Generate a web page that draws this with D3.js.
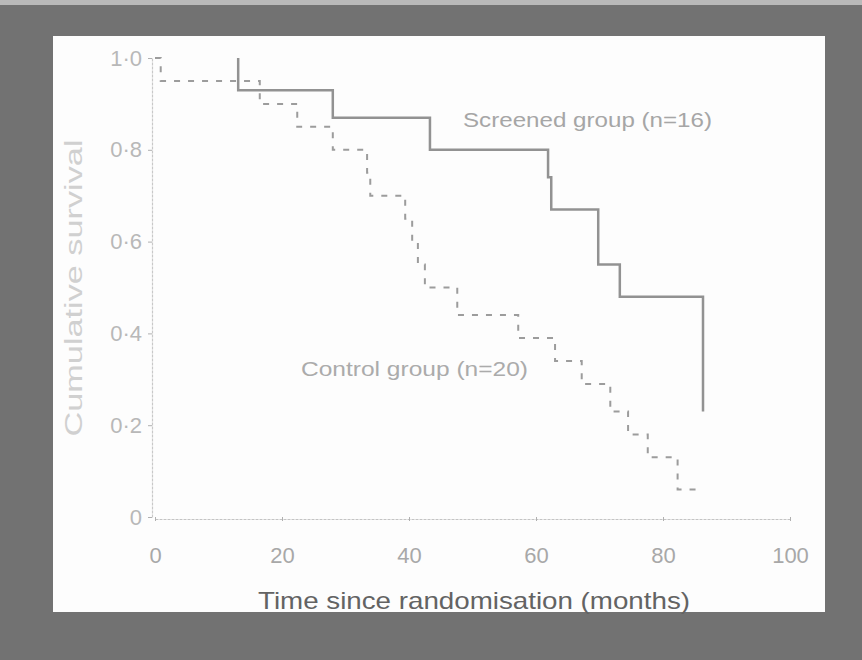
<!DOCTYPE html>
<html>
<head>
<meta charset="utf-8">
<script src="https://cdn.jsdelivr.net/npm/d3@7"></script>
<style>
	body { margin: 0; background: #717171; }
	svg { display: block; }
</style>
</head>
<body>
<div id="chart"></div>
<script>
// screened group (n=16), solid step line
var screened_time = [13.1, 13.1, 28.0, 43.3, 61.9, 62.4, 69.8, 73.2, 86.3];
var screened_surv = [1.0, 0.93, 0.87, 0.80, 0.74, 0.67, 0.55, 0.48, 0.23];

// control group (n=20), dashed step line
var control_time = [0, 0.9, 16.5, 22.4, 28.0, 33.4, 33.9, 39.4, 40.5, 41.4, 42.5, 47.6, 57.2, 63.0, 67.2, 71.7, 74.5, 77.6, 82.3, 85.8];
var control_surv = [1.0, 0.95, 0.90, 0.85, 0.80, 0.75, 0.70, 0.65, 0.60, 0.55, 0.50, 0.44, 0.39, 0.34, 0.29, 0.23, 0.18, 0.13, 0.06, 0.06];

var x_ticks = [0, 20, 40, 60, 80, 100];
var y_ticks = [0, 0.2, 0.4, 0.6, 0.8, 1.0];
var y_tick_labels = ['0', '0·2', '0·4', '0·6', '0·8', '1·0'];

var width = 862;
var height = 660;

var svg = d3.select('#chart')
	.append('svg')
	.attr('width', width)
	.attr('height', height);

// scanned page background
svg.append('rect')
	.attr('width', width)
	.attr('height', height)
	.style('fill', '#727272');
svg.append('rect')
	.attr('width', width)
	.attr('height', 5)
	.style('fill', '#b9b9b9');

// white panel
svg.append('rect')
	.attr('x', 53)
	.attr('y', 36)
	.attr('width', 772)
	.attr('height', 576)
	.style('fill', '#fdfdfd');

var x = d3.scaleLinear()
	.domain([0, 100])
	.range([155, 790]);

var y = d3.scaleLinear()
	.domain([0, 1])
	.range([517, 58]);

var font = '"Liberation Sans", Arial, sans-serif';

// x axis
var x_axis = svg.append('g')
	.attr('transform', 'translate(0,519)')
	.call(d3.axisBottom(x).tickValues(x_ticks).tickSize(4).tickSizeOuter(0).tickPadding(24));
x_axis.select('.domain')
	.attr('stroke', '#c4c4c4')
	.attr('stroke-width', 1.2)
	.attr('stroke-dasharray', '3,1');
x_axis.selectAll('.tick line')
	.attr('stroke', '#b0b0b0')
	.attr('transform', 'translate(0,-2)');
x_axis.selectAll('.tick text')
	.style('font-family', font)
	.style('font-size', '22px')
	.style('fill', '#a8a8a8');

// y axis
var y_axis = svg.append('g')
	.attr('transform', 'translate(152,0)')
	.call(d3.axisLeft(y)
		.tickValues(y_ticks)
		.tickFormat(function(d, i) { return y_tick_labels[i]; })
		.tickSize(4).tickSizeOuter(0).tickPadding(6));
y_axis.select('.domain')
	.attr('stroke', '#c8c8c8')
	.attr('stroke-width', 1.2)
	.attr('stroke-dasharray', '3,1');
y_axis.selectAll('.tick line')
	.attr('stroke', '#b0b0b0');
y_axis.selectAll('.tick text')
	.style('font-family', font)
	.style('font-size', '22px')
	.style('fill', '#b8b8b8');

// axis labels
svg.append('text')
	.attr('text-anchor', 'middle')
	.attr('x', 474)
	.attr('y', 609)
	.attr('textLength', 432)
	.attr('lengthAdjust', 'spacingAndGlyphs')
	.text('Time since randomisation (months)')
	.style('font-family', font)
	.style('font-size', '24px')
	.style('fill', '#636363');

svg.append('text')
	.attr('text-anchor', 'middle')
	.attr('transform', 'translate(82,288) rotate(-90)')
	.attr('textLength', 297)
	.attr('lengthAdjust', 'spacingAndGlyphs')
	.text('Cumulative survival')
	.style('font-family', font)
	.style('font-size', '23px')
	.style('fill', '#d0d0d0');

// survival curves
var step = d3.line()
	.x(function(d) { return x(d[0]); })
	.y(function(d) { return y(d[1]); })
	.curve(d3.curveStepAfter);

svg.append('path')
	.datum(d3.zip(screened_time, screened_surv))
	.attr('d', step)
	.style('fill', 'none')
	.style('stroke', '#929292')
	.style('stroke-width', 2.5);

svg.append('path')
	.datum(d3.zip(control_time, control_surv))
	.attr('d', step)
	.style('fill', 'none')
	.style('stroke', '#9c9c9c')
	.style('stroke-width', 2)
	.style('stroke-dasharray', '6,8');

// group labels
svg.append('text')
	.attr('x', 463)
	.attr('y', 127)
	.attr('textLength', 249)
	.attr('lengthAdjust', 'spacingAndGlyphs')
	.text('Screened group (n=16)')
	.style('font-family', font)
	.style('font-size', '21px')
	.style('fill', '#a6a6a6');

svg.append('text')
	.attr('x', 301)
	.attr('y', 376)
	.attr('textLength', 227)
	.attr('lengthAdjust', 'spacingAndGlyphs')
	.text('Control group (n=20)')
	.style('font-family', font)
	.style('font-size', '21px')
	.style('fill', '#ababab');
</script>
</body>
</html>
